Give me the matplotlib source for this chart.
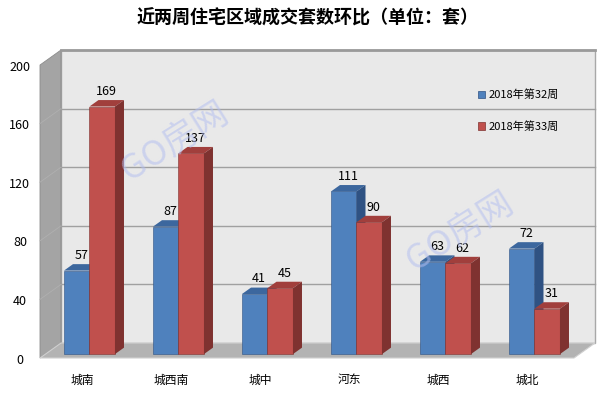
import numpy as np
import matplotlib.pyplot as plt
from matplotlib.patches import Polygon, Patch

plt.rcParams['font.family'] = ['Noto Sans CJK SC', 'DejaVu Sans']

title = "近两周住宅区域成交套数环比（单位：套）"
cats = ["城南", "城西南", "城中", "河东", "城西", "城北"]
wk32 = [57, 87, 41, 111, 63, 72]
wk33 = [169, 137, 45, 90, 62, 31]
names = ["2018年第32周", "2018年第33周"]
yticks = [0, 40, 80, 120, 160, 200]

# 像素 -> 数据单位的换算
sx = 89.0      # 每个类别的像素宽
sy = 1.465     # 每单位数值的像素高
x0, y0 = 84.0, 358.0
W, H = 602, 395
dX, dV = 21 / sx, 15 / sy   # 进深方向
f = 0.26       # 柱子前表面所在进深
bd = 0.43      # 柱子厚度(占进深比例)
w = 25.5 / sx
xL, xR = (40 - x0) / sx, (574 - x0) / sx
ymax = 200

c_front = ["#4f81bd", "#c0504d"]
c_top = ["#3c679e", "#a13f3c"]
c_side = ["#2f5283", "#7f3230"]

fig = plt.figure(figsize=(W / 100, H / 100), dpi=100)
ax = fig.add_axes([0, 0, 1, 1])
ax.set_xlim(-x0 / sx, (W - x0) / sx)
ax.set_ylim((y0 - H) / sy, y0 / sy)
ax.axis("off")

def poly(pts, fc, ec="none", lw=0, z=1):
    ax.add_patch(Polygon(pts, closed=True, facecolor=fc, edgecolor=ec, linewidth=lw, zorder=z))

# 背景墙、侧墙、地板
poly([(xL + dX, dV), (xR + dX, dV), (xR + dX, ymax + dV), (xL + dX, ymax + dV)], "#e9e9e9", "#a8a8a8", 1.0)
poly([(xL, 0), (xL + dX, dV), (xL + dX, ymax + dV), (xL, ymax)], "#a4a4a4", "#8c8c8c", 0.6)
poly([(xL, 0), (xR, 0), (xR + dX, dV), (xL + dX, dV)], "#b3b3b3", "#d0d0d0", 0.8)
ax.plot([xL + dX, xR + dX], [ymax + dV, ymax + dV], color="#9a9a9a", lw=2, zorder=2)

for t in yticks[1:-1]:
    ax.plot([xL + dX, xR + dX], [t + dV, t + dV], color="#a0a0a0", lw=1, zorder=2)
    ax.plot([xL, xL + dX], [t, t + dV], color="#b0b0b0", lw=0.6, zorder=2)
for t in yticks:
    ax.text(-0.72, t - 1.5, str(t), ha="center", va="center", fontsize=9, color="#000000")

xs = np.arange(len(cats))
for i, c in enumerate(cats):
    ax.text(xs[i] - 0.02, -15, c, ha="center", va="center", fontsize=8.5)

for i in range(len(cats)):
    for j, vals in enumerate([wk32, wk33]):
        v = vals[i]
        left = xs[i] + f * dX - w + j * w
        b = f * dV
        ax.bar(left, v, width=w, bottom=b, align="edge", color=c_front[j],
               edgecolor=c_side[j], linewidth=0.4, zorder=5 + 2 * j)
        ex, ev = bd * dX, bd * dV
        poly([(left, b + v), (left + w, b + v), (left + w + ex, b + v + ev), (left + ex, b + v + ev)],
             c_top[j], z=5 + 2 * j)
        poly([(left + w, b), (left + w + ex, b + ev), (left + w + ex, b + v + ev), (left + w, b + v)],
             c_side[j], z=5 + 2 * j)
        ax.text(left + w / 2 + ex / 2, b + v + ev + 1.5, str(v), ha="center", va="bottom",
                fontsize=9, zorder=12)

# 水印
for (px, py) in [(175, 142), (460, 232)]:
    fig.text(px / W, 1 - py / H, "GO房网", rotation=32, ha="center", va="center",
             fontsize=25, color="#b4bff0", alpha=0.55, zorder=20)

handles = [Patch(facecolor=c_front[k], edgecolor=c_side[k], linewidth=0.5) for k in range(2)]
ax.legend(handles, names, loc="upper left", bbox_to_anchor=(472 / W, 1 - 84 / H), frameon=False,
          fontsize=8, handlelength=0.7, handleheight=0.7, handletextpad=0.3, labelspacing=1.85,
          borderpad=0)

fig.text(308 / W, 1 - 18 / H, title, ha="center", va="center", fontsize=13, fontweight="bold")

fig.savefig("out.png", dpi=100)
